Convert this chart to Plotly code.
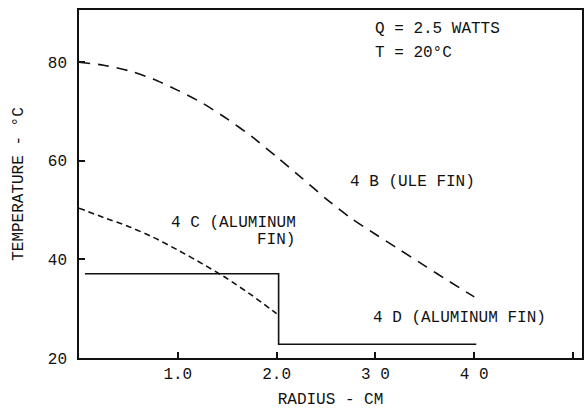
import plotly.graph_objects as go

# 4 B (ULE fin) - long dashed
radius_4b = [0.0, 0.25, 0.5, 0.75, 1.0, 1.25, 1.5, 1.75, 2.0, 2.25, 2.5, 2.75, 3.0, 3.25, 3.5, 3.75, 4.0]
temp_4b = [80.0, 79.4, 78.3, 76.6, 74.3, 71.7, 68.5, 64.9, 60.8, 56.6, 52.3, 48.4, 45.1, 41.9, 38.7, 35.5, 32.4]

# 4 C (aluminum fin) - short dashed
radius_4c = [0.0, 0.25, 0.5, 0.75, 1.0, 1.25, 1.5, 1.75, 2.0]
temp_4c = [50.4, 48.5, 46.7, 44.5, 41.9, 39.1, 36.1, 32.7, 29.0]

# 4 D (aluminum fin) - solid step
radius_4d = [0.06, 2.02, 2.02, 4.02]
temp_4d = [37.1, 37.1, 22.8, 22.8]

x_tick_vals = [1, 2, 3, 4, 5]
x_tick_text = ["1.0", "2.0", "3 0", "4 0", ""]
y_tick_vals = [20, 40, 60, 80]
y_tick_text = ["20", "40", "60", "80"]

FONT = "Liberation Mono, DejaVu Sans Mono, monospace"
INK = "#111111"

fig = go.Figure()
fig.add_trace(go.Scatter(x=radius_4b, y=temp_4b, mode="lines", line_shape="spline",
                         line=dict(color=INK, width=1.6, dash="11px,8px", smoothing=0.7),
                         showlegend=False))
fig.add_trace(go.Scatter(x=radius_4c, y=temp_4c, mode="lines", line_shape="spline",
                         line=dict(color=INK, width=1.6, dash="6px,4px", smoothing=0.6),
                         showlegend=False))
fig.add_trace(go.Scatter(x=radius_4d, y=temp_4d, mode="lines",
                         line=dict(color=INK, width=1.6), showlegend=False))

ann_font = dict(family=FONT, size=16, color=INK)
annotations = [
    dict(text="Q = 2.5 WATTS", x=2.98, y=86.8, xanchor="left", yanchor="middle"),
    dict(text="T = 20°C", x=2.98, y=81.9, xanchor="left", yanchor="middle"),
    dict(text="4 B (ULE FIN)", x=2.72, y=55.7, xanchor="left", yanchor="middle"),
    dict(text="4 C (ALUMINUM", x=2.22, y=47.4, xanchor="right", yanchor="middle"),
    dict(text="FIN)", x=2.21, y=44.0, xanchor="right", yanchor="middle"),
    dict(text="4 D (ALUMINUM FIN)", x=2.95, y=28.1, xanchor="left", yanchor="middle"),
]
for a in annotations:
    fig.add_annotation(xref="x", yref="y", showarrow=False, font=ann_font, **a)

fig.update_layout(
    width=584, height=409,
    margin=dict(l=79, r=2, t=10, b=51),
    paper_bgcolor="white", plot_bgcolor="white",
    font=dict(family=FONT, size=16, color=INK),
)
fig.update_xaxes(
    range=[0, 5.09], tickvals=x_tick_vals, ticktext=x_tick_text,
    ticks="inside", ticklen=6, tickwidth=1.5, tickcolor=INK,
    showline=True, linecolor=INK, linewidth=1.6, mirror=True,
    showgrid=False, zeroline=False, automargin=False,
    title=dict(text="RADIUS - CM", font=dict(family=FONT, size=16), standoff=10),
    tickfont=dict(family=FONT, size=16),
)
fig.update_yaxes(
    range=[20, 90.6], tickvals=y_tick_vals, ticktext=y_tick_text,
    ticks="inside", ticklen=6, tickwidth=1.5, tickcolor=INK,
    showline=True, linecolor=INK, linewidth=1.6, mirror=True,
    showgrid=False, zeroline=False, automargin=False, ticklabelstandoff=7,
    title=dict(text="TEMPERATURE - °C", font=dict(family=FONT, size=16), standoff=20),
    tickfont=dict(family=FONT, size=16),
)

fig.write_html("out.html", config={"displayModeBar": False},
               post_script="document.body.style.margin='0';document.body.style.overflow='hidden';")
